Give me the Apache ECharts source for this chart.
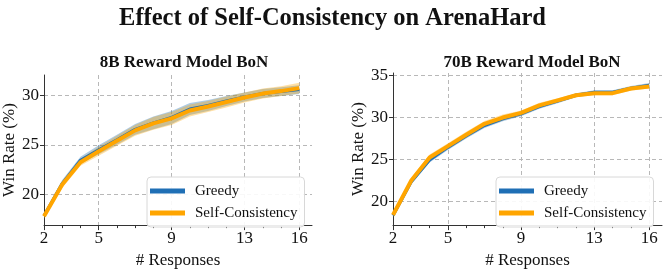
<!DOCTYPE html>
<html>
<head>
<meta charset="utf-8">
<script src="https://cdn.jsdelivr.net/npm/echarts@6/dist/echarts.min.js"></script>
<style>html,body{margin:0;padding:0;background:#fff}#c{width:665px;height:274px}</style>
</head>
<body>
<div id="c"></div>
<script>
// ---- data ----
const responses = [2,3,4,5,6,7,8,9,10,11,12,13,14,15,16];
const majorTicks = [2,5,9,13,16];
const minorTicks = [3,4,6,7,8,10,11,12,14,15];

const greedy8 = [17.85,21.1,23.45,24.5,25.5,26.55,27.2,27.75,28.6,28.95,29.4,29.8,30.15,30.35,30.55];
const sc8     = [17.8,21.0,23.25,24.35,25.4,26.45,27.15,27.65,28.45,28.85,29.3,29.75,30.15,30.4,30.7];
const greedy8Std = [0.25,0.35,0.35,0.45,0.5,0.55,0.65,0.65,0.6,0.55,0.5,0.45,0.45,0.45,0.45];
const sc8Std     = [0.25,0.35,0.35,0.45,0.5,0.55,0.65,0.65,0.6,0.55,0.55,0.5,0.5,0.5,0.55];

const greedy70 = [18.35,22.35,24.95,26.45,27.8,29.05,29.85,30.45,31.3,31.95,32.65,33.0,33.0,33.5,33.85];
const sc70     = [18.4,22.5,25.25,26.6,27.95,29.25,30.0,30.55,31.45,32.05,32.65,32.9,32.9,33.45,33.7];
const greedy70Std = [0.25,0.3,0.3,0.3,0.3,0.3,0.3,0.3,0.25,0.25,0.25,0.25,0.25,0.25,0.25];
const sc70Std     = [0.25,0.3,0.35,0.35,0.35,0.35,0.35,0.3,0.3,0.25,0.25,0.25,0.25,0.25,0.25];

const yTicks8 = [20,25,30];
const yTicks70 = [20,25,30,35];

// ---- style ----
const FONT = 'Liberation Serif';
const BLUE = '#1f6fb5';
const ORANGE = '#ffa500';
const AXIS = '#333333';
const GRIDC = '#b8b8b8';
const BLUE_BAND = 'rgba(31,111,181,0.36)';
const ORANGE_BAND = 'rgba(255,165,0,0.35)';

function bandSeries(xi, yi, mean, std, color) {
  return {
    type: 'custom', xAxisIndex: xi, yAxisIndex: yi, silent: true, z: 1,
    data: responses.map((x, i) => [x, mean[i]]),
    encode: {x: 0, y: 1},
    renderItem: function (params, api) {
      if (params.dataIndex !== 0) return null;
      const pts = [];
      for (let i = 0; i < responses.length; i++) pts.push(api.coord([responses[i], mean[i] + std[i]]));
      for (let i = responses.length - 1; i >= 0; i--) pts.push(api.coord([responses[i], mean[i] - std[i]]));
      return {type: 'polygon', shape: {points: pts}, style: {fill: color, stroke: null}};
    }
  };
}
function lineSeries(name, xi, yi, vals, color, w, z) {
  return {
    name, type: 'line', xAxisIndex: xi, yAxisIndex: yi, z,
    data: responses.map((x, i) => [x, vals[i]]),
    showSymbol: false, symbol: 'none', color,
    lineStyle: {color, width: w}, emphasis: {disabled: true}, animation: false
  };
}
function xAxes(gi) {
  return [{
    type: 'value', gridIndex: gi, min: 2, max: 16.7, position: 'bottom',
    name: '# Responses', nameLocation: 'middle', nameGap: 21,
    nameTextStyle: {fontFamily: FONT, fontSize: 17, color: '#111'},
    axisLine: {show: true, lineStyle: {color: AXIS, width: 1}},
    axisTick: {show: true, length: 5, customValues: majorTicks, lineStyle: {color: AXIS}},
    axisLabel: {customValues: majorTicks, fontFamily: FONT, fontSize: 17, color: '#111', margin: 5},
    splitLine: {show: true, lineStyle: {color: GRIDC, type: [4, 3], width: 1}}
  }, {
    type: 'value', gridIndex: gi, min: 2, max: 16.7, position: 'bottom', offset: 0,
    axisLine: {show: false},
    axisTick: {show: true, length: 3, customValues: minorTicks, lineStyle: {color: AXIS}},
    axisLabel: {show: false}, splitLine: {show: false}
  }];
}
function yAxis(gi, min, max, ticks, gap) {
  return {
    type: 'value', gridIndex: gi, min, max,
    name: 'Win Rate (%)', nameLocation: 'middle', nameGap: gap, nameRotate: 90,
    nameTextStyle: {fontFamily: FONT, fontSize: 17, color: '#111'},
    axisLine: {show: true, lineStyle: {color: AXIS, width: 1}},
    axisTick: {show: true, length: 4, customValues: ticks, lineStyle: {color: AXIS}},
    axisLabel: {customValues: ticks, fontFamily: FONT, fontSize: 17, color: '#111', margin: 5},
    splitLine: {show: true, lineStyle: {color: GRIDC, type: [4, 3], width: 1}}
  };
}
function legend(left, top) {
  return {
    orient: 'vertical', left, top, icon: 'rect', itemWidth: 35, itemHeight: 5, itemGap: 6,
    padding: [6, 7, 6, 3], backgroundColor: 'rgba(255,255,255,0.9)',
    borderColor: '#d8d8d8', borderWidth: 1, borderRadius: 4,
    textStyle: {fontFamily: FONT, fontSize: 15, color: '#111', lineHeight: 16, padding: [0,0,0,5]},
    data: ['Greedy', 'Self-Consistency'], selectedMode: false
  };
}

const chart = echarts.init(document.getElementById('c'), null, {renderer: 'canvas'});
const xa = xAxes(0).concat(xAxes(1));
chart.setOption({
  animation: false,
  title: [
    {text: 'Effect of Self-Consistency on ArenaHard', left: 'center', top: 1,
     textStyle: {fontFamily: FONT, fontSize: 24.5, fontWeight: 'bold', color: '#111'}},
    {text: '8B Reward Model BoN', left: 179, top: 49, textAlign: 'center',
     textStyle: {fontFamily: FONT, fontSize: 17, fontWeight: 'bold', color: '#111'}},
    {text: '70B Reward Model BoN', left: 527, top: 49, textAlign: 'center',
     textStyle: {fontFamily: FONT, fontSize: 17, fontWeight: 'bold', color: '#111'}}
  ],
  grid: [
    {left: 44, top: 75, width: 268, height: 157},
    {left: 393, top: 73, width: 269, height: 159}
  ],
  xAxis: xa,
  yAxis: [yAxis(0, 16.92, 32.02, yTicks8, 24), yAxis(1, 17.2, 35.3, yTicks70, 24)],
  legend: [legend(147, 177), legend(496, 177)],
  series: [
    bandSeries(0, 0, greedy8, greedy8Std, BLUE_BAND),
    bandSeries(0, 0, sc8, sc8Std, ORANGE_BAND),
    lineSeries('Greedy', 0, 0, greedy8, BLUE, 3, 3),
    lineSeries('Self-Consistency', 0, 0, sc8, ORANGE, 4, 4),
    bandSeries(2, 1, greedy70, greedy70Std, BLUE_BAND),
    bandSeries(2, 1, sc70, sc70Std, ORANGE_BAND),
    lineSeries('Greedy', 2, 1, greedy70, BLUE, 3, 3),
    lineSeries('Self-Consistency', 2, 1, sc70, ORANGE, 4, 4)
  ]
});
</script>
</body>
</html>
